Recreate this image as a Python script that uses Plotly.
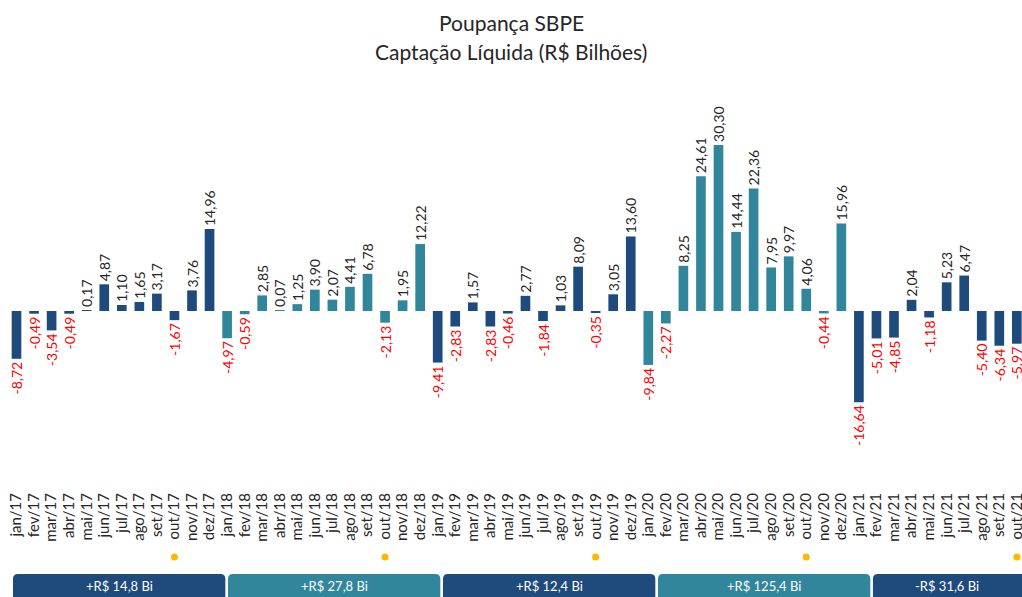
import plotly.graph_objects as go

months = ['jan', 'fev', 'mar', 'abr', 'mai', 'jun', 'jul', 'ago', 'set', 'out', 'nov', 'dez']
years = ['17', '18', '19', '20', '21']

values_2017 = [-8.72, -0.49, -3.54, -0.49, 0.17, 4.87, 1.10, 1.65, 3.17, -1.67, 3.76, 14.96]
values_2018 = [-4.97, -0.59, 2.85, 0.07, 1.25, 3.90, 2.07, 4.41, 6.78, -2.13, 1.95, 12.22]
values_2019 = [-9.41, -2.83, 1.57, -2.83, -0.46, 2.77, -1.84, 1.03, 8.09, -0.35, 3.05, 13.60]
values_2020 = [-9.84, -2.27, 8.25, 24.61, 30.30, 14.44, 22.36, 7.95, 9.97, 4.06, -0.44, 15.96]
values_2021 = [-16.64, -5.01, -4.85, 2.04, -1.18, 5.23, 6.47, -5.40, -6.34, -5.97]

year_totals = ['+R$ 14,8 Bi', '+R$ 27,8 Bi', '+R$ 12,4 Bi', '+R$ 125,4 Bi', '-R$ 31,6 Bi']

year_values = [values_2017, values_2018, values_2019, values_2020, values_2021]

NAVY = '#1F4A7C'
TEAL = '#31869B'
year_colors = [NAVY, TEAL, NAVY, TEAL, NAVY]

labels, values, colors = [], [], []
for k, (yy, vals) in enumerate(zip(years, year_values)):
    for m, v in zip(months, vals):
        labels.append(f'{m}/{yy}')
        values.append(v)
        colors.append(year_colors[k])

xs = list(range(len(values)))
texts = [f'{v:.2f}'.replace('.', ',') for v in values]
text_colors = ['#FF0000' if v < 0 else '#262626' for v in values]

FONT = 'Lato, Open Sans, sans-serif'

W, H = 1022, 597
PLOT_TOP, PLOT_BOTTOM = 80, 482
PH = PLOT_BOTTOM - PLOT_TOP

def py(px):
    return (PLOT_BOTTOM - px) / PH

SPACING = 17.55
FIRST_PX = 16.5
x_lo = -FIRST_PX / SPACING
x_hi = (W - FIRST_PX) / SPACING
SCALE = 5.48
ZERO_PX = 311
y_lo = -(PLOT_BOTTOM - ZERO_PX) / SCALE
y_hi = (ZERO_PX - PLOT_TOP) / SCALE

fig = go.Figure()
fig.add_trace(go.Bar(
    x=xs, y=values, marker=dict(color=colors, line=dict(width=0)),
    width=0.55,
    text=texts, textposition='outside', textangle=-90,
    textfont=dict(color=text_colors, size=14, family=FONT),
    constraintext='none', cliponaxis=False, hoverinfo='skip'
))

shapes = []
annotations = []

# yellow dots under October labels
for i, lab in enumerate(labels):
    if lab.startswith('out'):
        shapes.append(dict(type='circle', xref='x', yref='paper',
                           x0=i - 0.2, x1=i + 0.2, y0=py(560.5), y1=py(553.5),
                           fillcolor='#FFB800', line=dict(width=0)))

# yearly total boxes (rounded top corners)
rx, ry = 5 / SPACING, 5 / PH
for k, tot in enumerate(year_totals):
    i0 = 12 * k
    x0 = i0 * 12.25 / 12 - 0.2
    x1 = x0 + 12.1
    yb, yt = py(612), py(574)
    path = (f'M {x0},{yb} L {x0},{yt - ry} Q {x0},{yt} {x0 + rx},{yt} '
            f'L {x1 - rx},{yt} Q {x1},{yt} {x1},{yt - ry} L {x1},{yb} Z')
    shapes.append(dict(type='path', xref='x', yref='paper', path=path,
                       fillcolor=year_colors[k], line=dict(width=0)))
    cx = (x0 + min(x1, x_hi)) / 2
    annotations.append(dict(x=cx, y=py(586), xref='x', yref='paper', text=tot,
                            xanchor='center', yanchor='middle',
                            showarrow=False, font=dict(color='white', size=13, family=FONT)))

annotations.append(dict(x=0.5, y=py(22), xref='paper', yref='paper', text='Poupança SBPE',
                        xanchor='center', yanchor='middle',
                        showarrow=False, font=dict(size=21, color='#262626', family=FONT)))
annotations.append(dict(x=0.5, y=py(51), xref='paper', yref='paper', text='Captação Líquida (R$ Bilhões)',
                        xanchor='center', yanchor='middle',
                        showarrow=False, font=dict(size=21, color='#262626', family=FONT)))

fig.update_layout(
    width=W, height=H,
    margin=dict(l=0, r=0, t=PLOT_TOP, b=H - PLOT_BOTTOM, pad=0, autoexpand=False),
    paper_bgcolor='white', plot_bgcolor='white',
    showlegend=False,
    shapes=shapes, annotations=annotations,
    xaxis=dict(range=[x_lo, x_hi], tickmode='array', tickvals=xs, ticktext=labels,
               tickangle=-90, showgrid=False, zeroline=False, showline=False,
               ticks='outside', ticklen=4, tickcolor='rgba(0,0,0,0)',
               ticklabeloverflow='allow', automargin=False,
               tickfont=dict(size=15, color='#262626', family=FONT)),
    yaxis=dict(range=[y_lo, y_hi], visible=False, showgrid=False, zeroline=False),
    font=dict(family=FONT),
)

fig.write_html('out.html', config={'displayModeBar': False}, post_script=(
    "document.body.style.margin='0px';"
    "document.body.style.overflow='hidden';"
    "document.documentElement.style.overflow='hidden';"
))
